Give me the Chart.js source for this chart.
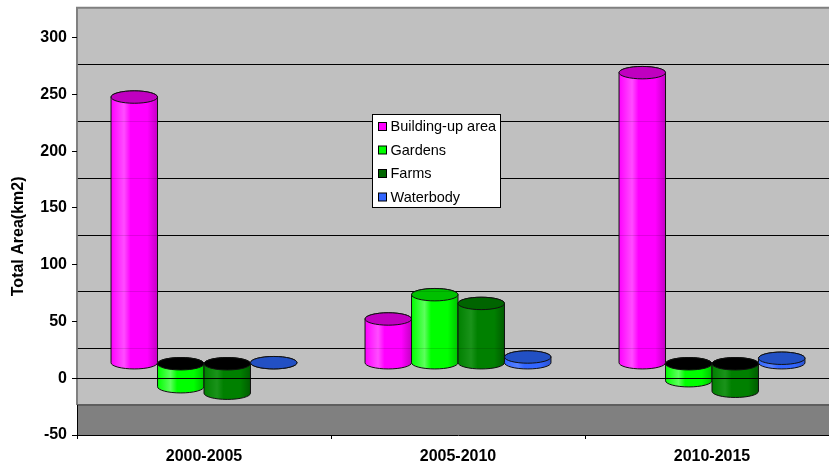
<!DOCTYPE html>
<html>
<head>
<meta charset="utf-8">
<script src="https://cdn.jsdelivr.net/npm/chart.js@4"></script>
<style>
  html, body { margin: 0; padding: 0; width: 829px; height: 464px; overflow: hidden; background: #fff; }
  canvas { display: block; }
</style>
</head>
<body>
<canvas id="chart" width="845" height="464"></canvas>
<script>
// Land-cover change per period (km2)
const periods     = ['2000-2005', '2005-2010', '2010-2015'];
const buildingUp  = [234.5, 39, 256];
const gardens     = [-20.7, 60.4, -15.4];
const farms       = [-26.4, 52.7, -24.7];
const waterbody   = [0.5, 5.5, 4.4];
const seriesNames = ['Building-up area', 'Gardens', 'Farms', 'Waterbody'];
const yMin = -50, yMax = 300, yStep = 50;

// cylinder shading per series
const palette = [
  { side: '#ff00ff', light: '#ff4dff', dark: '#c400c4', top: '#c000c0', key: '#ff00ff' },
  { side: '#00ff00', light: '#5cff5c', dark: '#00c400', top: '#00c000', key: '#00ff00' },
  { side: '#008000', light: '#1a931a', dark: '#005c00', top: '#006400', key: '#006600' },
  { side: '#3366ff', light: '#5580ff', dark: '#2a52d0', top: '#2250c4', key: '#3366ff' }
];

const FONT = "'Liberation Sans', Arial, sans-serif";
const DEPTH = 30;      // apparent depth of the 3-D box in px
const RY = 6.2;        // vertical radius of cylinder caps

function cylinder(ctx, cx, w, yCap, yBase, c) {
  const rx = w / 2;
  const l = cx - rx, r = cx + rx;
  const up = Math.min(yCap, yBase), down = Math.max(yCap, yBase);
  const positive = yCap <= yBase;
  const g = ctx.createLinearGradient(l, 0, r, 0);
  g.addColorStop(0, c.side);
  g.addColorStop(0.28, c.light);
  g.addColorStop(0.42, c.side);
  g.addColorStop(0.78, c.side);
  g.addColorStop(1, c.dark);
  ctx.beginPath();
  ctx.moveTo(l, up);
  ctx.lineTo(l, down);
  ctx.ellipse(cx, down, rx, RY, 0, Math.PI, 0, true);
  ctx.lineTo(r, up);
  ctx.ellipse(cx, up, rx, RY, 0, 0, Math.PI, true);
  ctx.closePath();
  ctx.fillStyle = g;
  ctx.fill();
  ctx.lineWidth = 1;
  ctx.strokeStyle = '#111';
  ctx.stroke();
  ctx.beginPath();
  ctx.ellipse(cx, up, rx, RY, 0, 0, Math.PI * 2);
  ctx.fillStyle = positive ? c.top : '#000';
  ctx.fill();
  ctx.stroke();
}

// back wall, floor and wall gridlines
const wallPlugin = {
  id: 'wall3d',
  beforeDraw(chart) {
    const { ctx, chartArea: a } = chart;
    const ys = chart.scales.y;
    const top = ys.getPixelForValue(yMax) - DEPTH;
    const floor = ys.getPixelForValue(yMin) - DEPTH;
    const w = a.right - a.left;
    ctx.save();
    ctx.fillStyle = '#c0c0c0';
    ctx.fillRect(a.left, top, w, floor - top);
    ctx.fillStyle = '#808080';
    ctx.fillRect(a.left, floor, w, a.bottom - floor);
    ctx.strokeStyle = '#000';
    ctx.lineWidth = 1;
    ys.ticks.forEach(t => {
      if (t.value <= yMin || t.value >= yMax) return;
      const py = Math.round(ys.getPixelForValue(t.value) - DEPTH) + 0.5;
      ctx.beginPath();
      ctx.moveTo(a.left, py);
      ctx.lineTo(a.right, py);
      ctx.stroke();
    });
    // wall outline
    ctx.strokeStyle = '#808080';
    ctx.lineWidth = 2;
    ctx.beginPath();
    ctx.moveTo(a.left, floor);
    ctx.lineTo(a.left, top);
    ctx.lineTo(a.right + 2, top);
    ctx.stroke();
    // floor edge
    ctx.strokeStyle = '#5e5e5e';
    ctx.beginPath();
    ctx.moveTo(a.left, floor);
    ctx.lineTo(a.right, floor);
    ctx.stroke();
    ctx.strokeStyle = '#000';
    ctx.lineWidth = 1;
    ctx.beginPath();
    ctx.moveTo(a.left + 0.5, floor);
    ctx.lineTo(a.left + 0.5, a.bottom);
    ctx.stroke();
    ctx.restore();
  }
};

// cylinders in place of flat bars, plus the zero line and legend
const cylinderPlugin = {
  id: 'cylinders',
  beforeDatasetDraw() { return false; },
  afterDatasetsDraw(chart) {
    const { ctx, chartArea: a } = chart;
    const ys = chart.scales.y;
    ctx.save();
    chart.data.datasets.forEach((ds, di) => {
      const meta = chart.getDatasetMeta(di);
      meta.data.forEach(el => {
        const p = el.getProps(['x', 'y', 'base', 'width'], true);
        cylinder(ctx, p.x, p.width, p.y - DEPTH / 2, p.base - DEPTH / 2, palette[di]);
      });
    });
    // wall gridlines faintly showing through
    ctx.strokeStyle = 'rgba(0,0,0,0.12)';
    ctx.lineWidth = 1;
    ys.ticks.forEach(t => {
      if (t.value <= yMin || t.value >= yMax) return;
      const py = Math.round(ys.getPixelForValue(t.value) - DEPTH) + 0.5;
      ctx.beginPath();
      ctx.moveTo(a.left, py);
      ctx.lineTo(a.right, py);
      ctx.stroke();
    });
    // zero line at the front
    const z = Math.round(ys.getPixelForValue(0)) + 0.5;
    ctx.strokeStyle = '#000';
    ctx.beginPath();
    ctx.moveTo(a.left, z);
    ctx.lineTo(a.right, z);
    ctx.stroke();
    ctx.restore();
  },
  afterDraw(chart) {
    const { ctx } = chart;
    const bx = 372.5, by = 114.5, bw = 128, bh = 93;
    ctx.save();
    ctx.fillStyle = '#fff';
    ctx.fillRect(bx, by, bw, bh);
    ctx.strokeStyle = '#000';
    ctx.lineWidth = 1;
    ctx.strokeRect(bx, by, bw, bh);
    ctx.font = '14.5px ' + FONT;
    ctx.textBaseline = 'middle';
    ctx.textAlign = 'left';
    chart.data.datasets.forEach((ds, i) => {
      const cy = by + 12 + i * 23.5;
      ctx.fillStyle = palette[i].key;
      ctx.fillRect(bx + 6, cy - 4, 8, 8);
      ctx.strokeStyle = '#000';
      ctx.strokeRect(bx + 6, cy - 4, 8, 8);
      ctx.fillStyle = '#000';
      ctx.fillText(ds.label, bx + 18, cy + 0.5);
    });
    ctx.restore();
  }
};

const seriesValues = [buildingUp, gardens, farms, waterbody];

new Chart(document.getElementById('chart'), {
  type: 'bar',
  data: {
    labels: periods,
    datasets: seriesValues.map((vals, i) => ({
      label: seriesNames[i],
      data: vals,
      backgroundColor: palette[i].side,
      categoryPercentage: 0.732,
      barPercentage: 1
    }))
  },
  options: {
    responsive: false,
    animation: false,
    devicePixelRatio: 1,
    layout: { padding: { top: 37.7, right: 6, bottom: 0, left: 0 } },
    plugins: {
      legend: { display: false },
      tooltip: { enabled: false }
    },
    scales: {
      x: {
        afterFit(scale) { scale.height = 29; },
        grid: { drawOnChartArea: false, drawTicks: true, tickLength: 4, color: '#000', offset: true },
        border: { display: true, color: '#000', width: 1 },
        ticks: { color: '#000', padding: 8, font: { family: FONT, size: 16, weight: 'bold' } }
      },
      y: {
        min: yMin,
        max: yMax,
        afterFit(scale) { scale.width = 77; },
        grid: { drawOnChartArea: false, drawTicks: true, tickLength: 5, color: '#000' },
        border: { display: false },
        ticks: { stepSize: yStep, color: '#000', padding: 5, font: { family: FONT, size: 16, weight: 'bold' } },
        title: {
          display: true,
          text: 'Total Area(km2)',
          color: '#000',
          padding: { top: 9, bottom: 0 },
          font: { family: FONT, size: 16, weight: 'bold' }
        }
      }
    }
  },
  plugins: [wallPlugin, cylinderPlugin]
});
</script>
</body>
</html>
